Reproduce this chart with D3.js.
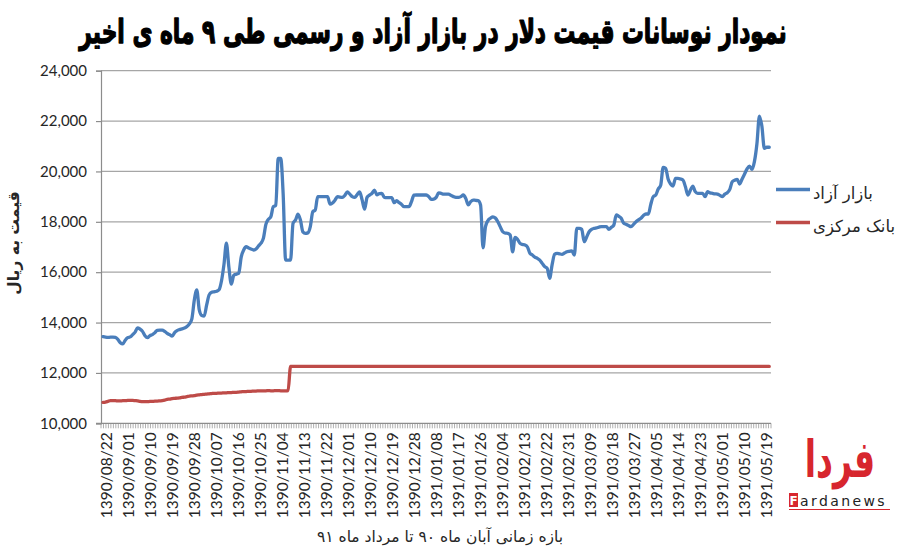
<!DOCTYPE html>
<html>
<head>
<meta charset="utf-8">
<script src="https://cdn.jsdelivr.net/npm/d3@7"></script>
<style>
  html, body { margin: 0; padding: 0; background: #fff; }
  svg { display: block; }
</style>
</head>
<body>
<svg id="chart" width="900" height="553"></svg>
<script>
// ---------------- DATA ----------------
const titleText = "نمودار نوسانات قیمت دلار در بازار آزاد و رسمی طی ۹ ماه ی اخیر";
const yTitle = "قیمت به ریال";
const xTitle = "بازه زمانی آبان ماه ۹۰ تا مرداد ماه ۹۱";
const seriesNames = ["بازار آزاد", "بانک مرکزی"];

// one label every 9 days (daily data, 271 days)
const tickLabels = [
  "1390/08/22","1390/09/01","1390/09/10","1390/09/19","1390/09/28","1390/10/07",
  "1390/10/16","1390/10/25","1390/11/04","1390/11/13","1390/11/22","1390/12/01",
  "1390/12/10","1390/12/19","1390/12/28","1391/01/08","1391/01/17","1391/01/26",
  "1391/02/04","1391/02/13","1391/02/22","1391/02/31","1391/03/09","1391/03/18",
  "1391/03/27","1391/04/05","1391/04/14","1391/04/23","1391/05/01","1391/05/10",
  "1391/05/19"
];
const labelStep = 9;

const yTicks = [10000, 12000, 14000, 16000, 18000, 20000, 22000, 24000];

// free market (بازار آزاد), daily, rials
const freeMarket = [
  13440,13420,13410,13420,13420,13410,13330,13200,13150,13300,
  13400,13430,13520,13620,13790,13740,13650,13480,13400,13480,
  13520,13600,13690,13700,13700,13650,13570,13520,13460,13600,
  13680,13720,13750,13780,13840,13950,14150,14900,15300,14500,
  14280,14260,14700,15100,15200,15220,15240,15300,15650,16300,
  17150,16200,15530,15880,15920,15960,16600,16880,17010,16960,
  16920,16880,16920,17040,17150,17350,17900,18100,18200,18600,
  18650,20520,20520,19100,16480,16480,16480,17940,18070,18300,
  18070,17600,17540,17560,17810,18400,18470,19000,19000,19000,
  19000,19000,18700,18750,18860,19000,18980,18970,19050,19190,
  19100,19000,18970,19080,19190,18870,18500,18970,19060,19130,
  19260,19070,19120,19130,18970,18960,18960,18960,18760,18840,
  18760,18690,18600,18600,18600,18800,19060,19065,19065,19065,
  19065,19065,19000,18890,18900,18970,19150,19130,19100,19100,
  19100,19050,19000,18970,18970,19000,19065,18930,18670,18800,
  18865,18850,18840,18670,16970,17810,18050,18140,18200,18150,
  18005,17800,17605,17550,17545,17475,16810,17385,17300,17145,
  17100,17080,17000,16750,16680,16600,16550,16480,16350,16220,
  16150,15755,16300,16710,16750,16730,16710,16760,16810,16830,
  16850,16680,17740,17740,17700,17210,17400,17605,17700,17740,
  17760,17790,17810,17810,17810,17700,17780,17870,18270,18220,
  18140,17950,17900,17850,17810,17900,18005,18080,18140,18250,
  18310,18310,18700,19000,19065,19300,19450,20160,20125,19700,
  19500,19420,19725,19725,19700,19660,19400,19065,19250,19420,
  19200,19130,19130,19130,19000,19195,19150,19130,19110,19100,
  19050,19000,19100,19155,19290,19590,19650,19685,19500,19700,
  19900,20100,20215,20085,20400,21100,22200,21800,20920,20960,
  20960
];

// central bank (بانک مرکزی), daily, rials
const centralBank = [
  10830,10840,10870,10900,10900,10900,10890,10890,10900,10900,
  10910,10910,10910,10900,10890,10870,10860,10860,10860,10870,
  10870,10880,10880,10890,10900,10920,10950,10960,10980,10990,
  11000,11010,11030,11040,11060,11080,11090,11100,11120,11130,
  11140,11150,11160,11170,11180,11190,11190,11200,11200,11210,
  11210,11220,11220,11230,11230,11240,11250,11260,11260,11270,
  11270,11280,11280,11290,11290,11290,11290,11300,11290,11290,
  11300,11300,11290,11290,11290,11300,12260,12260,12260,12260,
  12260,12260,12260,12260,12260,12260,12260,12260,12260,12260,
  12260,12260,12260,12260,12260,12260,12260,12260,12260,12260,
  12260,12260,12260,12260,12260,12260,12260,12260,12260,12260,
  12260,12260,12260,12260,12260,12260,12260,12260,12260,12260,
  12260,12260,12260,12260,12260,12260,12260,12260,12260,12260,
  12260,12260,12260,12260,12260,12260,12260,12260,12260,12260,
  12260,12260,12260,12260,12260,12260,12260,12260,12260,12260,
  12260,12260,12260,12260,12260,12260,12260,12260,12260,12260,
  12260,12260,12260,12260,12260,12260,12260,12260,12260,12260,
  12260,12260,12260,12260,12260,12260,12260,12260,12260,12260,
  12260,12260,12260,12260,12260,12260,12260,12260,12260,12260,
  12260,12260,12260,12260,12260,12260,12260,12260,12260,12260,
  12260,12260,12260,12260,12260,12260,12260,12260,12260,12260,
  12260,12260,12260,12260,12260,12260,12260,12260,12260,12260,
  12260,12260,12260,12260,12260,12260,12260,12260,12260,12260,
  12260,12260,12260,12260,12260,12260,12260,12260,12260,12260,
  12260,12260,12260,12260,12260,12260,12260,12260,12260,12260,
  12260,12260,12260,12260,12260,12260,12260,12260,12260,12260,
  12260,12260,12260,12260,12260,12260,12260,12260,12260,12260,
  12260
];

const colors = ["#4a7ebb", "#be4b48"];

// ---------------- DRAW ----------------
const svg = d3.select("#chart");
svg.append("rect").attr("width", 900).attr("height", 553).attr("fill", "#fff");

const plot = { left: 101, right: 771, top: 70.7, bottom: 423.3 };
const n = freeMarket.length;
const band = (plot.right - plot.left) / n;

const x = d3.scaleLinear().domain([0, n - 1]).range([plot.left + band / 2 + 0.8, plot.right - band / 2 - 0.5]);
const xLabel = d3.scaleLinear().domain([0, n - 1]).range([106.7, 766.7]);
const y = d3.scaleLinear().domain([10000, 24000]).range([plot.bottom, plot.top]);

const latin = "Lato, Calibri, 'Open Sans', sans-serif";
const arabic = "'DejaVu Sans', sans-serif";

// gridlines
svg.append("g").selectAll("line").data(yTicks.filter(v => v > 10000)).join("line")
  .attr("x1", plot.left).attr("x2", plot.right)
  .attr("y1", d => y(d)).attr("y2", d => y(d))
  .attr("stroke", "#a6a6a6").attr("stroke-width", 1.2);

// y axis
const yAxis = d3.axisLeft(y).tickValues(yTicks).tickSize(5).tickPadding(9)
  .tickFormat(d3.format(","));
const gy = svg.append("g").attr("transform", `translate(${plot.left},0)`).call(yAxis);
gy.select(".domain").attr("stroke", "#8c8c8c").attr("stroke-width", 1.2);
gy.selectAll(".tick line").attr("stroke", "#8c8c8c").attr("stroke-width", 1.2);
gy.selectAll("text").attr("font-family", latin).attr("font-size", 15).attr("fill", "#262626");

// x axis: minor ticks at each category boundary
const boundaries = d3.scaleLinear().domain([0, n]).range([plot.left, plot.right]);
svg.append("g").selectAll("line").data(d3.range(n + 1)).join("line")
  .attr("x1", d => boundaries(d)).attr("x2", d => boundaries(d))
  .attr("y1", plot.bottom).attr("y2", plot.bottom + 5)
  .attr("stroke", "#9a9a9a").attr("stroke-width", 0.8);
svg.append("line").attr("x1", plot.left - 5).attr("x2", plot.right)
  .attr("y1", plot.bottom).attr("y2", plot.bottom)
  .attr("stroke", "#8c8c8c").attr("stroke-width", 1.2);

// x labels
svg.append("g").selectAll("text").data(tickLabels).join("text")
  .attr("transform", (d, i) => `translate(${xLabel(i * labelStep)},${plot.bottom + 9}) rotate(-90)`)
  .attr("text-anchor", "end").attr("dy", "0.35em")
  .attr("font-family", latin).attr("font-size", 15.5).attr("fill", "#262626")
  .text(d => d);

// lines
const line = d3.line().x((d, i) => x(i)).y(d => y(d)).curve(d3.curveMonotoneX);
[centralBank, freeMarket].forEach((s, k) => {
  svg.append("path").datum(s)
    .attr("d", line)
    .attr("fill", "none")
    .attr("stroke", k === 0 ? colors[1] : colors[0])
    .attr("stroke-width", 3.3)
    .attr("stroke-linejoin", "round")
    .attr("stroke-linecap", "round");
});

// title: tall heavy font, condensed horizontally to the reference width (~712px)
const titleG = svg.append("g");
const title = titleG.append("text").attr("x", 0).attr("y", 0)
  .attr("text-anchor", "middle").attr("direction", "rtl")
  .attr("font-family", arabic).attr("font-weight", "bold").attr("font-size", 33)
  .attr("fill", "#000").attr("stroke", "#000").attr("stroke-width", 1.4)
  .attr("stroke-linejoin", "round")
  .text(titleText);
const natural = title.node().getComputedTextLength();
const sx = natural > 0 ? Math.min(1, 708 / natural) : 1;
titleG.attr("transform", `translate(433,43) scale(${sx.toFixed(4)},1)`);

// y title
svg.append("text").attr("transform", "translate(14,243) rotate(-90)")
  .attr("text-anchor", "middle").attr("dy", "0.35em").attr("direction", "rtl")
  .attr("font-family", arabic).attr("font-weight", "bold").attr("font-size", 15.5)
  .attr("fill", "#262626").text(yTitle);

// x title
svg.append("text").attr("x", 440).attr("y", 542)
  .attr("text-anchor", "middle").attr("direction", "rtl")
  .attr("font-family", arabic).attr("font-size", 15.5)
  .attr("fill", "#262626").text(xTitle);

// legend
const legend = svg.append("g");
[0, 1].forEach(k => {
  const ly = k === 0 ? 189.5 : 222.5;
  legend.append("line").attr("x1", 776).attr("x2", 810).attr("y1", ly).attr("y2", ly)
    .attr("stroke", colors[k]).attr("stroke-width", 3.3);
  legend.append("text").attr("x", 813).attr("y", ly + 3.5).attr("dy", "0.35em")
    .attr("text-anchor", "start").attr("direction", "ltr")
    .attr("font-family", arabic).attr("font-size", 16.5).attr("fill", "#262626")
    .text(seriesNames[k]);
});

// logo (Fardanews)
const logo = svg.append("g");
logo.append("text").attr("transform", "translate(840,477) scale(1,1.55)")
  .attr("text-anchor", "middle")
  .attr("font-family", arabic).attr("font-weight", "bold").attr("font-size", 33)
  .attr("fill", "#d7262e").attr("direction", "rtl").text("فردا");
logo.append("rect").attr("x", 789).attr("y", 493).attr("width", 9).attr("height", 14)
  .attr("fill", "#d7262e");
logo.append("text").attr("x", 793.5).attr("y", 505).attr("text-anchor", "middle")
  .attr("font-family", "'DejaVu Sans', sans-serif").attr("font-weight", "bold").attr("font-size", 12)
  .attr("fill", "#fff").text("F");
logo.append("text").attr("x", 800).attr("y", 506)
  .attr("font-family", "'DejaVu Sans', sans-serif").attr("font-size", 14)
  .attr("letter-spacing", 2.4).attr("fill", "#222").text("ardanews");
logo.append("line").attr("x1", 789).attr("x2", 890).attr("y1", 509.5).attr("y2", 509.5)
  .attr("stroke", "#d7262e").attr("stroke-width", 1);
</script>
</body>
</html>
